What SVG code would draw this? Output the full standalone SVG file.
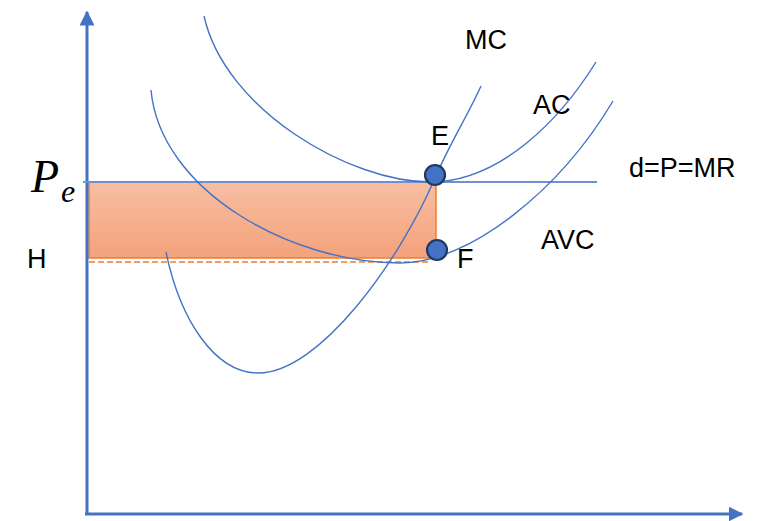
<svg xmlns="http://www.w3.org/2000/svg" width="759" height="521" viewBox="0 0 759 521">
<style>
.curve{fill:none;stroke:#4472c4;stroke-width:1.4}
.axis{fill:none;stroke:#4472c4;stroke-width:3}
.lbl{font-family:"Liberation Sans",Arial,sans-serif;font-size:27px;fill:#000}
.pt{fill:#4472c4;stroke:#1f3864;stroke-width:2.2}
</style>
<defs>
<linearGradient id="g" x1="0" y1="0" x2="0" y2="1">
<stop offset="0" stop-color="#f7bea3"/>
<stop offset="1" stop-color="#f4a27a"/>
</linearGradient>
<marker id="ah" viewBox="0 0 10 10" refX="9" refY="5" markerWidth="5" markerHeight="5" orient="auto" markerUnits="strokeWidth">
<path d="M0,0 L10,5 L0,10 z" fill="#4472c4"/>
</marker>
</defs>
<g id="area">
<rect x="89" y="182" width="347" height="76" fill="url(#g)" stroke="#ed7d31" stroke-width="1.5"/>
<line x1="89" y1="262" x2="430" y2="262" stroke="#ed7d31" stroke-width="1.3" stroke-dasharray="6,3"/>
</g>
<g id="axes">
<line class="axis" x1="87" y1="515" x2="87" y2="12" marker-end="url(#ah)"/>
<line class="axis" x1="85" y1="514" x2="742" y2="514" marker-end="url(#ah)"/>
</g>
<g id="connectors">
<line id="demand" x1="83" y1="182" x2="597" y2="182" stroke="#6f8fcf" stroke-width="2"/>
<path id="AC-curve" class="curve" d="M204,16 C225,110 350,182 430,182 C500,182 560,120 596,62"/>
<path id="AVC-curve" class="curve" d="M151,90 C160,190 290,263 400,263 C470,263 560,190 613,101"/>
<path id="MC-curve" class="curve" d="M166,252 C180,320 215,373 258,373 C320,373 400,260 435,178 C450,143 468,115 481,86"/>
</g>
<g id="E"><circle class="pt" cx="435" cy="175" r="10"/><text class="lbl" x="431" y="145">E</text></g>
<g id="F"><circle class="pt" cx="437" cy="250" r="10"/><text class="lbl" x="457" y="268">F</text></g>
<g id="labels">
<text class="lbl" x="465" y="49">MC</text>
<text class="lbl" x="533" y="114">AC</text>
<text class="lbl" x="541" y="249">AVC</text>
<text class="lbl" x="629" y="177">d=P=MR</text>
<text class="lbl" x="27" y="268">H</text>
<text x="31" y="192" font-family="'Liberation Serif','DejaVu Serif',serif" font-style="italic" font-size="46" fill="#000">P</text>
<text x="61" y="202" font-family="'Liberation Serif','DejaVu Serif',serif" font-style="italic" font-size="32" fill="#000">e</text>
</g>
</svg>
